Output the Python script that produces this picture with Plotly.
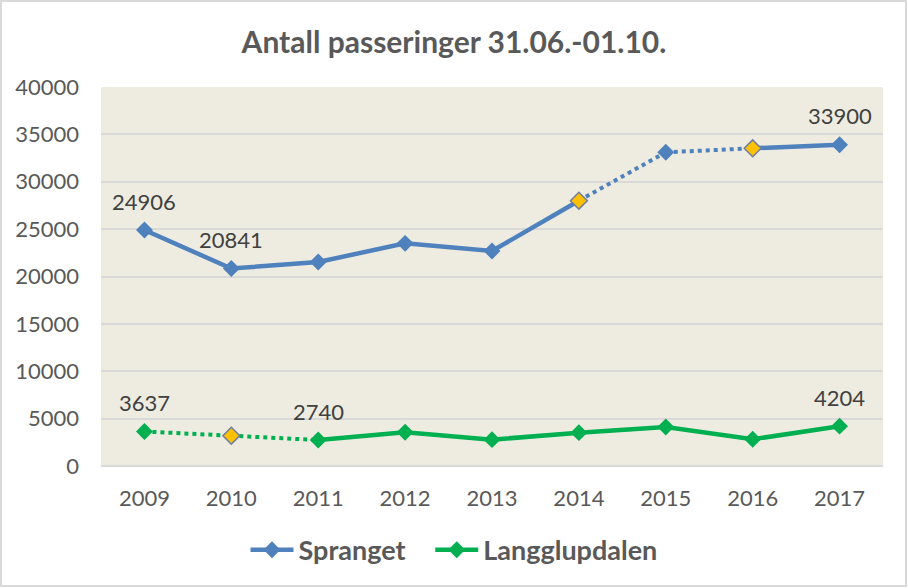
import plotly.graph_objects as go

years = ["2009", "2010", "2011", "2012", "2013", "2014", "2015", "2016", "2017"]
spranget = [24906, 20841, 21530, 23500, 22690, 28000, 33110, 33530, 33900]
langglupdalen = [3637, 3200, 2740, 3560, 2780, 3520, 4116, 2820, 4204]
# indices with estimated values (yellow markers) and dotted segments
spranget_estimated = [5, 7]
langg_estimated = [1]
spranget_dotted = [(5, 6), (6, 7)]
langg_dotted = [(0, 1), (1, 2)]
spranget_labels = [0, 1, 8]
langg_labels = [0, 2, 8]

BLUE = "#4F81BD"
GREEN = "#00B050"
YELLOW = "#FFC000"
FONT = "Lato"

fig = go.Figure()

def add_series(name, legend_name, vals, color, dotted, estimated):
    n = len(vals)
    dotted_idx = set(dotted)
    solid_y = [None] * n
    for i in range(n - 1):
        if (i, i + 1) not in dotted_idx:
            solid_y[i] = vals[i]
            solid_y[i + 1] = vals[i + 1]
    fig.add_trace(go.Scatter(x=years, y=solid_y, mode="lines", line=dict(color=color, width=4.5),
                             showlegend=False, hoverinfo="skip", connectgaps=False))
    for a, b in dotted:
        fig.add_trace(go.Scatter(x=[years[a], years[b]], y=[vals[a], vals[b]], mode="lines",
                                 line=dict(color=color, width=4, dash="dot"),
                                 showlegend=False, hoverinfo="skip"))
    mcolors = [YELLOW if i in estimated else color for i in range(n)]
    fig.add_trace(go.Scatter(x=years, y=vals, mode="markers", name=name,
                             marker=dict(symbol="diamond", size=13, color=mcolors,
                                         line=dict(color="#6F7F9F",
                                                   width=[1.5 if i in estimated else 0 for i in range(n)])),
                             showlegend=False))
    fig.add_trace(go.Scatter(x=[None], y=[None], mode="lines+markers", name=legend_name,
                             line=dict(color=color, width=4.5),
                             marker=dict(symbol="diamond", size=13, color=color)))

add_series("Spranget", "Spranget\u00a0\u00a0\u00a0", spranget, BLUE, spranget_dotted, spranget_estimated)
add_series("Langglupdalen", "Langglupdalen", langglupdalen, GREEN, langg_dotted, langg_estimated)

for i in spranget_labels:
    fig.add_annotation(x=i, y=spranget[i], text=str(spranget[i]), showarrow=False,
                       yshift=29, font=dict(family=FONT, size=22, color="#404040"))
for i in langg_labels:
    fig.add_annotation(x=i, y=langglupdalen[i], text=str(langglupdalen[i]), showarrow=False,
                       yshift=29, font=dict(family=FONT, size=22, color="#404040"))

# outer chart border
fig.add_shape(type="rect", xref="paper", yref="paper",
              x0=-0.1279, x1=1.0294, y0=-0.3166, y1=1.2269,
              line=dict(color="#D9D9D9", width=2), fillcolor="rgba(0,0,0,0)", layer="below")

fig.update_layout(
    width=908, height=588,
    margin=dict(l=101, r=25, t=87, b=122, autoexpand=False),
    paper_bgcolor="white",
    plot_bgcolor="#EEECE1",
    title=dict(text="<b>Antall passeringer 31.06.-01.10.</b>", x=0.5, xanchor="center",
               xref="container", y=1 - 42 / 588, yanchor="middle", yref="container",
               font=dict(family=FONT, size=30, color="#595959")),
    font=dict(family=FONT, color="#595959"),
    showlegend=True,
    legend=dict(orientation="h", xref="paper", x=0.4514, xanchor="center", y=-0.222, yanchor="middle",
                font=dict(family=FONT, size=27, color="#595959", weight="bold"),
                itemwidth=43, bgcolor="rgba(0,0,0,0)"),
    xaxis=dict(type="category", showgrid=False, showline=False, zeroline=False,
               ticks="", tickfont=dict(family=FONT, size=22, color="#595959"),
               ticklabelstandoff=17, range=[-0.5, 8.5]),
    yaxis=dict(range=[0, 40000], dtick=5000, showgrid=True, gridcolor="#D9D9D9", gridwidth=2,
               zeroline=True, zerolinecolor="#D9D9D9", zerolinewidth=2, showline=False,
               ticks="", tickfont=dict(family=FONT, size=22, color="#595959"),
               ticklabelstandoff=21, tickformat="d"),
)

fig.write_html("out.html", config={"displayModeBar": False},
               post_script="document.body.style.margin='0';")
